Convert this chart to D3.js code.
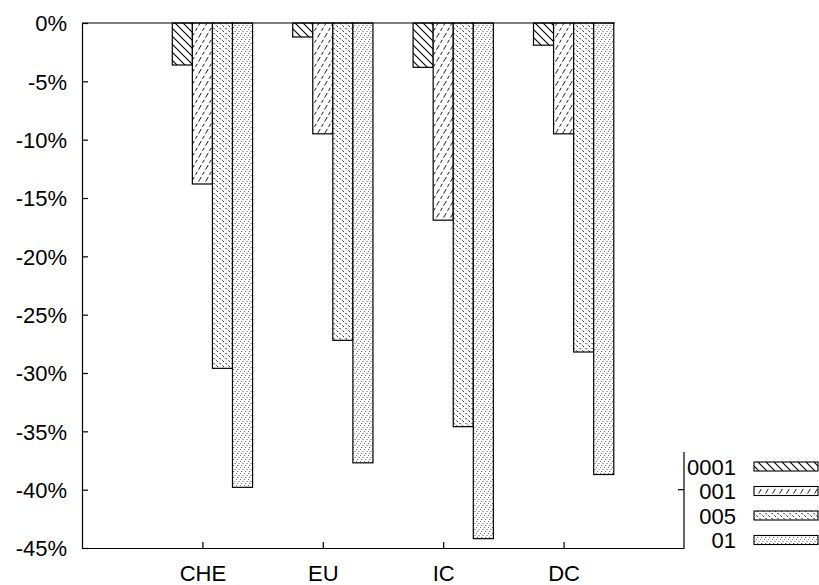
<!DOCTYPE html>
<html>
<head>
<meta charset="utf-8">
<script src="https://cdn.jsdelivr.net/npm/d3@7/dist/d3.min.js"></script>
<style>
  html, body { margin: 0; padding: 0; background: #fff; }
  svg { display: block; }
  text { font-family: "Liberation Sans", Arial, sans-serif; fill: #000; }
</style>
</head>
<body>
<svg id="chart" width="819" height="585"></svg>
<script>
// ---- data ----
const categories = ["CHE", "EU", "IC", "DC"];
const seriesNames = ["0001", "001", "005", "01"];
const values0001 = [-3.6, -1.2, -3.8, -1.9];
const values001 = [-13.8, -9.5, -16.9, -9.5];
const values005 = [-29.6, -27.2, -34.6, -28.2];
const values01 = [-39.8, -37.7, -44.2, -38.7];
const yTickValues = [0, -5, -10, -15, -20, -25, -30, -35, -40, -45];
const seriesValues = [values0001, values001, values005, values01];

(function () {
const svg = d3.select("#chart");
const mLeft = 82, mRight = 684, mTop = 23, mBottom = 548;

const x = d3.scaleLinear().domain([-1, 4]).range([mLeft, mRight]);
const y = d3.scaleLinear().domain([0, -45]).range([mTop, mBottom]);

// ---- patterns ----
const defs = svg.append("defs");
const pids = ["p0", "p1", "p2", "p3"];
// 0001: solid "\" lines
let p = defs.append("pattern").attr("id", "p0").attr("patternUnits", "userSpaceOnUse")
  .attr("width", 8).attr("height", 8);
p.append("rect").attr("width", 8).attr("height", 8).attr("fill", "#fff");
p.append("path").attr("d", "M-1,-1 L9,9 M-3,5 L3,11 M5,-3 L11,3")
  .attr("stroke", "#000").attr("stroke-width", 1.1);
// 001: dashed "/" lines (steep)
p = defs.append("pattern").attr("id", "p1").attr("patternUnits", "userSpaceOnUse")
  .attr("width", 7).attr("height", 12);
p.append("rect").attr("width", 7).attr("height", 12).attr("fill", "#fff");
p.append("path").attr("d", "M-3.5,12 L3.5,0 M3.5,12 L10.5,0")
  .attr("stroke", "#000").attr("stroke-width", 0.9).attr("stroke-dasharray", "3.5,2.5");
// 005: sparse dots
p = defs.append("pattern").attr("id", "p2").attr("patternUnits", "userSpaceOnUse")
  .attr("width", 6).attr("height", 5);
p.append("rect").attr("width", 6).attr("height", 5).attr("fill", "#fff");
p.append("path").attr("d", "M0.5,0.5 L1.8,1.8 M3.5,3 L4.8,4.3")
  .attr("stroke", "#000").attr("stroke-width", 1);
// 01: dense dotted "/" lines
p = defs.append("pattern").attr("id", "p3").attr("patternUnits", "userSpaceOnUse")
  .attr("width", 4).attr("height", 6);
p.append("rect").attr("width", 4).attr("height", 6).attr("fill", "#fff");
p.append("path").attr("d", "M0,6 L4,0")
  .attr("stroke", "#000").attr("stroke-width", 0.8).attr("stroke-dasharray", "1,1.4");

// ---- bars ----
const barData = [];
seriesValues.forEach((vals, j) => {
  vals.forEach((v, i) => barData.push({ i, j, v }));
});
svg.append("g").selectAll("rect").data(barData).join("rect")
  .attr("x", d => x(d.i + (d.j - 1.5) / 6))
  .attr("width", d => x(d.i + (d.j - 0.5) / 6) - x(d.i + (d.j - 1.5) / 6))
  .attr("y", y(0))
  .attr("height", d => y(d.v) - y(0))
  .attr("fill", d => `url(#${pids[d.j]})`)
  .attr("stroke", "#000").attr("stroke-width", 1.2);

// ---- axes ----
const yAxis = d3.axisLeft(y).tickValues(yTickValues).tickSize(-6).tickSizeOuter(0)
  .tickPadding(15).tickFormat(d => d + "%");
const gy = svg.append("g").attr("transform", `translate(${mLeft},0)`).call(yAxis);
gy.selectAll("text").style("font-size", "22px").attr("dy", "0.36em");
gy.selectAll("line, path").attr("stroke", "#000").attr("stroke-width", 1.2);

const xAxis = d3.axisBottom(x).tickValues(categories.map((c, i) => i)).tickSize(-6)
  .tickSizeOuter(0).tickPadding(17).tickFormat(i => categories[i]);
const gx = svg.append("g").attr("transform", `translate(0,${mBottom})`).call(xAxis);
gx.selectAll("text").style("font-size", "22px");
gx.selectAll("line, path").attr("stroke", "#000").attr("stroke-width", 1.2);

// top line
svg.append("line").attr("x1", mLeft).attr("x2", 615).attr("y1", mTop).attr("y2", mTop)
  .attr("stroke", "#000").attr("stroke-width", 1.2);
// partial right border with mirrored tick
svg.append("line").attr("x1", mRight).attr("x2", mRight).attr("y1", 452).attr("y2", mBottom)
  .attr("stroke", "#000").attr("stroke-width", 1.2);
svg.append("line").attr("x1", mRight - 6).attr("x2", mRight).attr("y1", y(-40)).attr("y2", y(-40))
  .attr("stroke", "#000").attr("stroke-width", 1.2);

// ---- legend ----
const legendRows = [467, 491.5, 516, 540.5];
const lg = svg.append("g");
seriesNames.forEach((name, j) => {
  lg.append("text").attr("x", 736).attr("y", legendRows[j]).attr("dy", "0.36em")
    .attr("text-anchor", "end").style("font-size", "22px").text(name);
  lg.append("rect").attr("x", 754).attr("y", legendRows[j] - 5).attr("width", 64).attr("height", 9)
    .attr("fill", `url(#${pids[j]})`).attr("stroke", "#000").attr("stroke-width", 1.1);
});
})();
</script>
</body>
</html>
